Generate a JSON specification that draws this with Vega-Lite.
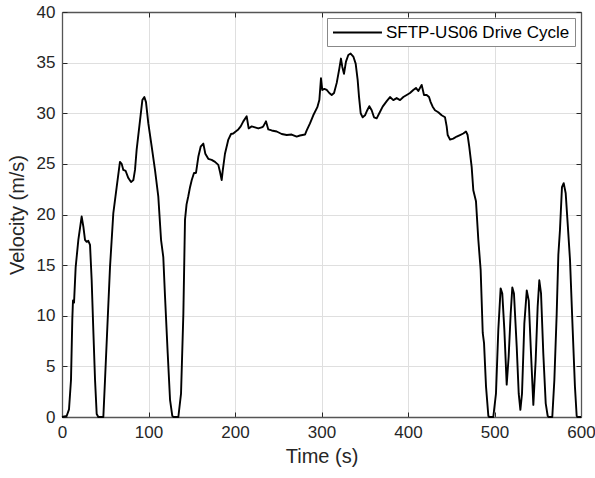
{
  "$schema": "https://vega.github.io/schema/vega-lite/v6.json",
  "width": 519,
  "height": 405,
  "autosize": {"type": "none"},
  "padding": {"left": 62, "top": 12, "right": 14, "bottom": 61},
  "background": "white",
  "config": {
    "view": {"stroke": null},
    "font": "Liberation Sans",
    "axis": {
      "labelFont": "Liberation Sans",
      "labelFontSize": 17,
      "labelColor": "#262626",
      "labelFlush": false,
      "titleFont": "Liberation Sans",
      "titleFontSize": 20,
      "titleFontWeight": "normal",
      "titleColor": "#262626",
      "domainColor": "#555555",
      "domainWidth": 1.3,
      "tickColor": "#262626",
      "tickSize": -5,
      "tickWidth": 1,
      "gridColor": "#dfdfdf",
      "gridWidth": 1
    },
    "legend": {
      "labelFont": "Liberation Sans",
      "labelFontSize": 17,
      "labelColor": "#000000",
      "labelLimit": 400
    }
  },
  "data": {
    "values": [
      {"t":0,"v":0},{"t":5.4,"v":0.1},{"t":8.1,"v":0.75},{"t":10.4,"v":3.65},{"t":11.9,"v":9.6},{"t":12.7,"v":11.5},{"t":13.9,"v":11.3},{"t":15.8,"v":14.8},{"t":18.9,"v":17.5},{"t":22.7,"v":19.8},{"t":24.7,"v":18.8},{"t":26.6,"v":17.5},{"t":28.5,"v":17.3},{"t":30.4,"v":17.4},{"t":32.4,"v":17.0},{"t":34.3,"v":13.5},{"t":36.2,"v":8.6},{"t":38.2,"v":3.65},{"t":40.1,"v":0.3},{"t":42,"v":0},{"t":47.8,"v":0},{"t":49.7,"v":3.6},{"t":52.8,"v":9.6},{"t":55.5,"v":14.8},{"t":59.3,"v":20.1},{"t":63.2,"v":22.7},{"t":67,"v":25.2},{"t":69,"v":25.0},{"t":70.9,"v":24.4},{"t":73.6,"v":24.3},{"t":76.7,"v":23.6},{"t":79.8,"v":23.2},{"t":82.5,"v":23.4},{"t":84.4,"v":24.4},{"t":86.3,"v":26.4},{"t":90.2,"v":29.3},{"t":92.9,"v":31.3},{"t":95.2,"v":31.6},{"t":97.1,"v":31.1},{"t":99.8,"v":29.0},{"t":103.7,"v":26.7},{"t":107.5,"v":24.4},{"t":111.3,"v":21.8},{"t":114.5,"v":17.5},{"t":117.1,"v":15.8},{"t":119.1,"v":11.9},{"t":122.2,"v":6.3},{"t":124.9,"v":1.7},{"t":127.5,"v":0.1},{"t":129,"v":0},{"t":134.5,"v":0},{"t":137.6,"v":2.3},{"t":140.3,"v":10.2},{"t":142.2,"v":19.5},{"t":144,"v":21},{"t":146,"v":21.8},{"t":148,"v":22.7},{"t":150,"v":23.4},{"t":152.6,"v":24.1},{"t":154.9,"v":24.1},{"t":157.6,"v":25.7},{"t":160.3,"v":26.7},{"t":163.4,"v":27.0},{"t":165.7,"v":26.0},{"t":169.1,"v":25.5},{"t":173,"v":25.4},{"t":176.9,"v":25.2},{"t":180.7,"v":24.9},{"t":182.7,"v":24.2},{"t":184.6,"v":23.4},{"t":185.8,"v":24.3},{"t":188.4,"v":26.0},{"t":192.3,"v":27.4},{"t":195.4,"v":27.95},{"t":198,"v":28.0},{"t":200.8,"v":28.2},{"t":203.8,"v":28.4},{"t":206.6,"v":28.7},{"t":209.6,"v":29.2},{"t":213.5,"v":29.7},{"t":215.8,"v":28.5},{"t":219.3,"v":28.7},{"t":223.1,"v":28.6},{"t":226.9,"v":28.5},{"t":230.9,"v":28.6},{"t":232.7,"v":28.7},{"t":235.8,"v":29.2},{"t":238.5,"v":28.4},{"t":242.4,"v":28.3},{"t":248.2,"v":28.2},{"t":254,"v":27.95},{"t":259.8,"v":27.85},{"t":265.5,"v":27.9},{"t":271.3,"v":27.7},{"t":275.1,"v":27.8},{"t":280.9,"v":27.9},{"t":282.9,"v":28.3},{"t":286.7,"v":29.0},{"t":290.5,"v":29.8},{"t":295.2,"v":30.6},{"t":297.5,"v":31.3},{"t":299.4,"v":33.45},{"t":300.9,"v":32.3},{"t":303.3,"v":32.4},{"t":306,"v":32.3},{"t":309,"v":32.0},{"t":311.8,"v":31.8},{"t":314.5,"v":32.0},{"t":317.6,"v":33.0},{"t":320.6,"v":34.4},{"t":322.5,"v":35.4},{"t":324,"v":34.6},{"t":326,"v":33.9},{"t":328.3,"v":35.1},{"t":331,"v":35.75},{"t":333.7,"v":35.9},{"t":336.8,"v":35.6},{"t":339.5,"v":34.9},{"t":341.8,"v":33.3},{"t":343.4,"v":31.6},{"t":345.3,"v":30.0},{"t":347.6,"v":29.6},{"t":350.3,"v":29.8},{"t":352.9,"v":30.3},{"t":355.3,"v":30.7},{"t":358,"v":30.3},{"t":360.7,"v":29.6},{"t":363.8,"v":29.5},{"t":366.8,"v":30.0},{"t":370.7,"v":30.65},{"t":375.4,"v":31.2},{"t":379.2,"v":31.6},{"t":383,"v":31.3},{"t":386.9,"v":31.5},{"t":390.8,"v":31.3},{"t":394.6,"v":31.6},{"t":398.5,"v":31.8},{"t":402.3,"v":32.0},{"t":406.1,"v":32.3},{"t":409.2,"v":32.5},{"t":411.9,"v":32.2},{"t":415.8,"v":32.8},{"t":418.5,"v":31.8},{"t":421.6,"v":31.8},{"t":424.3,"v":31.6},{"t":426.2,"v":31.1},{"t":428.5,"v":30.65},{"t":431.2,"v":30.3},{"t":435,"v":30.1},{"t":438.9,"v":29.8},{"t":442.8,"v":29.6},{"t":444.7,"v":28.7},{"t":445.9,"v":27.85},{"t":448.6,"v":27.4},{"t":452.3,"v":27.5},{"t":456.3,"v":27.7},{"t":460.1,"v":27.85},{"t":463.9,"v":28.0},{"t":467,"v":28.2},{"t":468.9,"v":27.85},{"t":470.8,"v":26.7},{"t":473.6,"v":24.7},{"t":475.5,"v":22.4},{"t":478.6,"v":21.3},{"t":481.3,"v":17.5},{"t":484,"v":14.5},{"t":486.4,"v":8.3},{"t":487.9,"v":7.3},{"t":490.2,"v":3.0},{"t":492.9,"v":0.1},{"t":494,"v":0},{"t":498.6,"v":0},{"t":501.7,"v":2.3},{"t":504.4,"v":8.6},{"t":507.1,"v":12.7},{"t":509,"v":12.2},{"t":511.4,"v":8.6},{"t":514.1,"v":3.2},{"t":516.4,"v":6.0},{"t":518.7,"v":10.2},{"t":520.6,"v":12.8},{"t":522.5,"v":12.2},{"t":525.7,"v":6.9},{"t":528,"v":2.3},{"t":529.9,"v":0.7},{"t":531.8,"v":2.3},{"t":534.5,"v":9.25},{"t":537.3,"v":12.5},{"t":539.6,"v":11.5},{"t":542.2,"v":6.3},{"t":544.9,"v":1.2},{"t":547.6,"v":5.6},{"t":549.9,"v":10.9},{"t":551.8,"v":13.5},{"t":553.8,"v":12.2},{"t":556.4,"v":6.3},{"t":559.2,"v":1.35},{"t":561.5,"v":0.1},{"t":562.5,"v":0},{"t":566.8,"v":0},{"t":569.2,"v":3.65},{"t":571.9,"v":10.2},{"t":573.8,"v":16.0},{"t":575.7,"v":18.5},{"t":578,"v":22.7},{"t":580,"v":23.1},{"t":582.3,"v":22.1},{"t":584.6,"v":19.1},{"t":587.3,"v":15.5},{"t":590.4,"v":8.6},{"t":593,"v":3.0},{"t":595,"v":0.1},{"t":596,"v":0},{"t":600,"v":0}
    ]
  },
  "layer": [
    {
      "mark": {"type": "line", "strokeWidth": 1.9, "strokeJoin": "round"},
      "encoding": {
        "x": {
          "field": "t", "type": "quantitative",
          "scale": {"domain": [0, 600], "nice": false, "zero": false},
          "axis": {"title": "Time (s)", "values": [0,100,200,300,400,500,600], "orient": "bottom", "labelPadding": 12, "titlePadding": 6}
        },
        "y": {
          "field": "v", "type": "quantitative",
          "scale": {"domain": [0, 40], "nice": false},
          "axis": {"title": "Velocity (m/s)", "values": [0,5,10,15,20,25,30,35,40], "orient": "left", "labelPadding": 12, "titlePadding": 9}
        },
        "color": {
          "datum": "SFTP-US06 Drive Cycle",
          "type": "nominal",
          "scale": {"range": ["#000000"]},
          "legend": {
            "title": null,
            "orient": "top-right",
            "offset": 6,
            "padding": 5,
            "strokeColor": "#888888",
            "fillColor": "#ffffff",
            "cornerRadius": 0,
            "symbolType": "M-1,0H4.76",
            "symbolSize": 289,
            "symbolStrokeWidth": 1.8,
            "labelOffset": 35,
            "labelLimit": 400
          }
        }
      }
    },
    {
      "mark": {"type": "line", "opacity": 0},
      "encoding": {
        "x": {
          "field": "t", "type": "quantitative",
          "scale": {"domain": [0, 600], "nice": false, "zero": false},
          "axis": {"orient": "top", "title": null, "labels": false, "grid": false, "values": [0,100,200,300,400,500,600]}
        },
        "y": {
          "field": "v", "type": "quantitative",
          "scale": {"domain": [0, 40], "nice": false},
          "axis": {"orient": "right", "title": null, "labels": false, "grid": false, "values": [0,5,10,15,20,25,30,35,40]}
        }
      }
    }
  ],
  "resolve": {"axis": {"x": "independent", "y": "independent"}}
}
